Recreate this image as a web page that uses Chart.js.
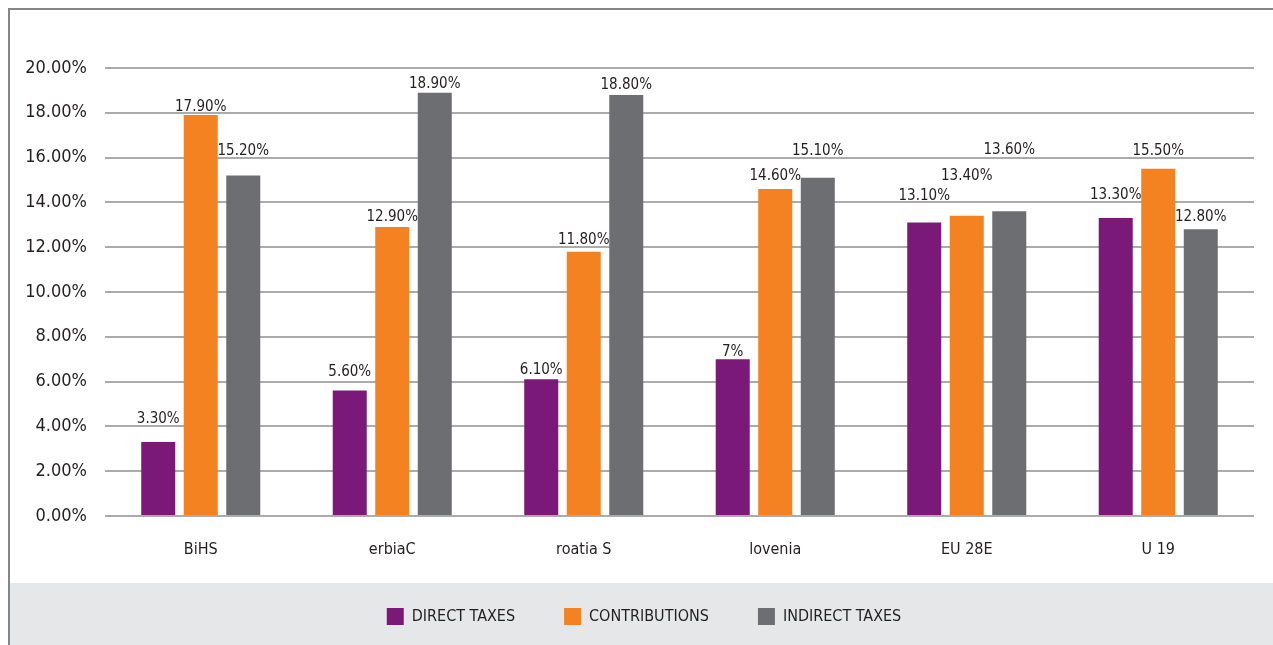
<!DOCTYPE html>
<html>
<head>
<meta charset="utf-8">
<title>Tax structure</title>
<script src="https://cdn.jsdelivr.net/npm/chart.js@4/dist/chart.umd.min.js"></script>
<style>
  html, body { margin: 0; padding: 0; background: #ffffff; overflow: hidden; }
  #frame {
    position: absolute; left: 8px; top: 8px; width: 1300px; height: 700px;
    border-left: 2px solid #858585; border-top: 2px solid #858585;
  }
  #legendBand {
    position: absolute; left: 10px; top: 583px; right: 0; bottom: 0;
    background: #e6e7e8;
  }
  #wrap { position: absolute; left: 0; top: 0; width: 1273px; height: 645px; }
</style>
</head>
<body>
<div id="frame"></div>
<div id="legendBand"></div>
<div id="wrap"><canvas id="chart"></canvas></div>
<script>
// Categories and the three series (percent)
const categories = ['BiHS', 'erbiaC', 'roatia S', 'lovenia', 'EU 28E', 'U 19'];
const directTaxes = [3.3, 5.6, 6.1, 7, 13.1, 13.3];
const contributions = [17.9, 12.9, 11.8, 14.6, 13.4, 15.5];
const indirectTaxes = [15.2, 18.9, 18.8, 15.1, 13.6, 12.8];
const seriesNames = ['DIRECT TAXES', 'CONTRIBUTIONS', 'INDIRECT TAXES'];

// Value axis range
const yMin = 0;
const yMax = 20;
const yStep = 2;

const FONT = "'Liberation Sans Narrow', 'DejaVu Sans Condensed', sans-serif";
const colors = ['#7b1978', '#f48221', '#6d6e71'];

// How far (px) each value label sits above its bar
const labelLift = [
  [23, 18, 9, 7, 26, 23],
  [8, 10, 12, 13, 40, 18],
  [24, 9, 10, 27, 61, 12]
];

function pct(v) {
  return Number.isInteger(v) ? v + '%' : v.toFixed(2) + '%';
}

const valueLabels = {
  id: 'valueLabels',
  afterDatasetsDraw(chart) {
    const ctx = chart.ctx;
    ctx.save();
    ctx.font = '15px ' + FONT;
    ctx.fillStyle = '#231f20';
    ctx.textAlign = 'center';
    ctx.textBaseline = 'middle';
    chart.data.datasets.forEach((ds, di) => {
      const meta = chart.getDatasetMeta(di);
      meta.data.forEach((bar, i) => {
        ctx.fillText(pct(ds.data[i]), bar.x, bar.y - labelLift[di][i]);
      });
    });
    ctx.restore();
  }
};

// Nudge the legend row a little to the right of the plot centre
const legendShift = {
  id: 'legendShift',
  afterLayout(chart) {
    if (chart.legend) {
      chart.legend.left += 12;
      chart.legend.right += 12;
    }
  }
};

new Chart(document.getElementById('chart'), {
  type: 'bar',
  data: {
    labels: categories,
    datasets: [
      { label: seriesNames[0], data: directTaxes, backgroundColor: colors[0] },
      { label: seriesNames[1], data: contributions, backgroundColor: colors[1] },
      { label: seriesNames[2], data: indirectTaxes, backgroundColor: colors[2] }
    ]
  },
  options: {
    responsive: true,
    maintainAspectRatio: false,
    animation: false,
    devicePixelRatio: 1,
    categoryPercentage: 0.666,
    barPercentage: 0.8,
    layout: { padding: { left: 10, right: 19, top: 68, bottom: 10 } },
    plugins: {
      tooltip: { enabled: false },
      legend: {
        position: 'bottom',
        labels: {
          boxWidth: 17,
          boxHeight: 17,
          padding: 49,
          color: '#231f20',
          font: { family: FONT, size: 16 }
        }
      }
    },
    scales: {
      x: {
        grid: { display: false },
        border: { display: false },
        ticks: { color: '#231f20', padding: 16, font: { family: FONT, size: 16 } },
        afterFit(scale) { scale.height = 43; }
      },
      y: {
        min: yMin,
        max: yMax,
        grid: { color: '#ababab', lineWidth: 2, drawTicks: false },
        border: { display: false },
        ticks: {
          stepSize: yStep,
          padding: 18,
          color: '#231f20',
          font: { family: FONT, size: 18 },
          callback: (v) => v.toFixed(2) + '%'
        },
        afterFit(scale) { scale.width = 95; }
      }
    }
  },
  plugins: [valueLabels, legendShift]
});
</script>
</body>
</html>
